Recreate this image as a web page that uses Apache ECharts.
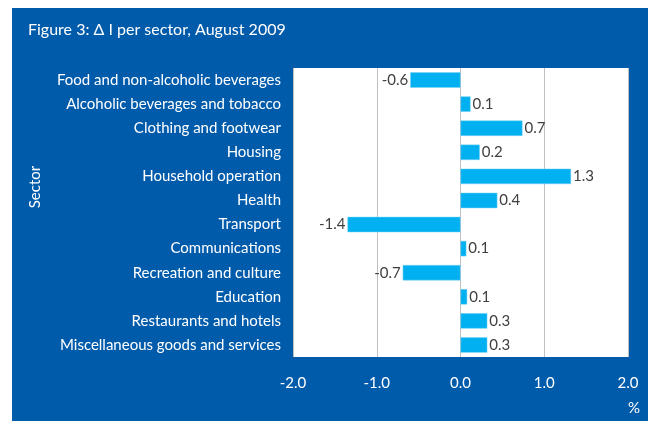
<!DOCTYPE html>
<html>
<head>
<meta charset="utf-8">
<script src="https://cdn.jsdelivr.net/npm/echarts@6/dist/echarts.min.js"></script>
<style>
html,body{margin:0;padding:0;background:#fff;}
#c{width:648px;height:421px;}
</style>
</head>
<body>
<div id="c"></div>
<script>
var categories = ["Food and non-alcoholic beverages","Alcoholic beverages and tobacco","Clothing and footwear","Housing","Household operation","Health","Transport","Communications","Recreation and culture","Education","Restaurants and hotels","Miscellaneous goods and services"];
var values = [-0.6, 0.12, 0.74, 0.23, 1.32, 0.44, -1.35, 0.07, -0.69, 0.08, 0.32, 0.32];
var xTicks = [-2, -1, 0, 1, 2];
var titleText = "Figure 3: \u0394 I per sector, August 2009";
var yName = "Sector";
var xName = "%";

var FONT = "Lato";
var chart = echarts.init(document.getElementById('c'));
var data = values.map(function(v){
  return {value: v, label: {position: v < 0 ? 'left' : 'right'}};
});
chart.setOption({
  animation: false,
  backgroundColor: '#ffffff',
  graphic: [
    {type:'rect', z:-10, shape:{x:12,y:8,width:636,height:413}, style:{fill:'#005bab'}},
    {type:'text', left:28, top:22, style:{text:titleText, fill:'#ffffff', font:'16px ' + FONT}},
    {type:'text', x:35, y:187, rotation:Math.PI/2, style:{text:yName, fill:'#ffffff', font:'15px ' + FONT, textAlign:'center', textVerticalAlign:'middle'}},
    {type:'text', x:634, y:408, style:{text:xName, fill:'#ffffff', font:'15px ' + FONT, textAlign:'center', textVerticalAlign:'middle'}}
  ],
  grid: {left:293, right:20, top:68, bottom:64, show:true, backgroundColor:'#ffffff', borderWidth:0},
  xAxis: {
    type:'value', min:-2, max:2, interval:1,
    axisLine:{show:false}, axisTick:{show:false},
    splitLine:{show:true, lineStyle:{color:'#c0c0c0', width:1}},
    axisLabel:{color:'#ffffff', fontFamily:FONT, fontSize:15, margin:19,
      formatter:function(v){ return xTicks.indexOf(v) >= 0 ? v.toFixed(1) : ''; }}
  },
  yAxis: {
    type:'category', data:categories, inverse:true,
    axisLine:{show:false}, axisTick:{show:false}, splitLine:{show:false},
    axisLabel:{color:'#ffffff', fontFamily:FONT, fontSize:15, margin:12}
  },
  series: [{
    type:'bar', data:data, barWidth:'64%',
    itemStyle:{color:'#00b0f0', borderColor:'#7fd3f5', borderWidth:0.5},
    label:{show:true, color:'#404040', fontFamily:FONT, fontSize:15, distance:2,
      formatter:function(p){ return p.value.toFixed(1); }}
  }]
});
</script>
</body>
</html>
